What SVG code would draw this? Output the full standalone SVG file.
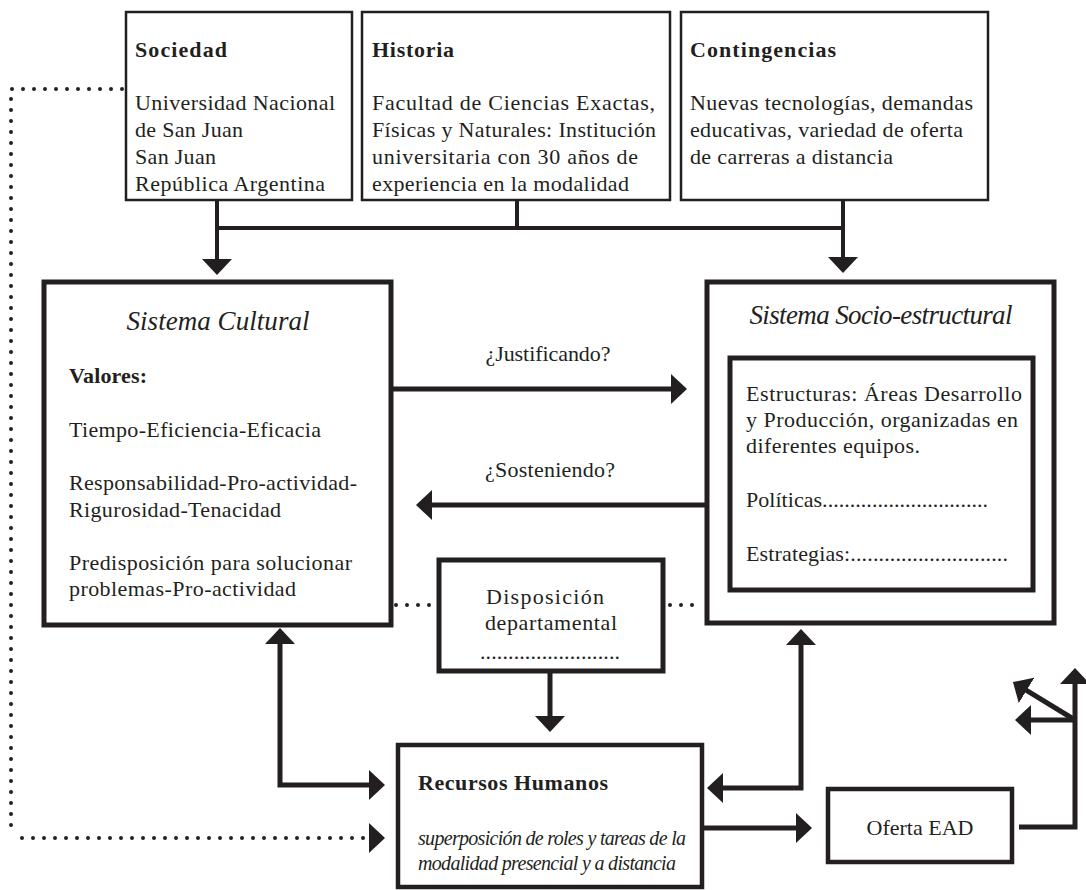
<svg xmlns="http://www.w3.org/2000/svg" width="1086" height="890" viewBox="0 0 1086 890">
<style>
.bg{fill:#ffffff}
.box{fill:#ffffff;stroke:#231f20}
.thin{stroke-width:2.5}
.thick{stroke-width:5}
.med{stroke-width:4.5}
.t{font-family:"Liberation Serif","Times New Roman",serif;font-size:22px;fill:#231f20}
.b{font-weight:bold}
.i{font-style:italic}
.ttl{font-size:27px;font-style:italic}
.it{font-size:20px;font-style:italic}
.c{text-anchor:middle}
.con{fill:none;stroke:#231f20;stroke-width:5;stroke-linejoin:miter}
.top{stroke-width:4}
.dot{fill:none;stroke:#231f20;stroke-width:4;stroke-linecap:round;stroke-dasharray:0 11}
</style>
<defs>
<marker id="ah" viewBox="0 0 16 30" markerWidth="16" markerHeight="30" refX="4" refY="15" orient="auto-start-reverse" markerUnits="userSpaceOnUse">
<path d="M0,0 L16,15 L0,30 Z" fill="#231f20"/>
</marker>
</defs>
<rect class="bg" x="0" y="0" width="1086" height="890"/>

<g id="connectors">
<path class="con top" d="M217,200 V263"  marker-end="url(#ah)"/>
<path class="con top" d="M843,200 V261" marker-end="url(#ah)"/>
<path class="con top" d="M217,228 H843"/>
<path class="con top" d="M517,200 V228"/>
<path class="con" d="M391,389 H675" marker-end="url(#ah)"/>
<path class="con" d="M707,505 H428" marker-end="url(#ah)"/>
<path class="con" d="M280,640 V785 H373" marker-start="url(#ah)" marker-end="url(#ah)"/>
<path class="con" d="M801,641 V788 H719" marker-start="url(#ah)" marker-end="url(#ah)"/>
<path class="con" d="M550,671 V720" marker-end="url(#ah)"/>
<path class="con" d="M702,828 H800" marker-end="url(#ah)"/>
<path class="con" d="M1019,827 H1075 V680" marker-end="url(#ah)"/>
<path class="con" d="M1075,720 H1027" marker-end="url(#ah)"/>
<path class="con" d="M1075,720 L1023.2,688.3" marker-end="url(#ah)"/>
<path class="dot" d="M122,89 H11 V829"/>
<path class="dot" d="M22,838 H373" marker-end="url(#ah)"/>
<path class="dot" d="M396,605 H436"/>
<path class="dot" d="M670,605 H703"/>
<text class="t c" x="548" y="361" textLength="125">¿Justificando?</text>
<text class="t c" x="550" y="477" textLength="130">¿Sosteniendo?</text>
</g>

<g id="sociedad">
<rect class="box thin" x="126" y="12" width="226" height="188"/>
<text class="t b" x="135" y="57" textLength="92">Sociedad</text>
<text class="t" x="135" y="110" textLength="200">Universidad Nacional</text>
<text class="t" x="135" y="137" textLength="108">de San Juan</text>
<text class="t" x="135" y="164" textLength="81">San Juan</text>
<text class="t" x="135" y="191" textLength="190">República Argentina</text>
</g>

<g id="historia">
<rect class="box thin" x="362" y="12" width="308" height="188"/>
<text class="t b" x="372" y="57" textLength="82">Historia</text>
<text class="t" x="372" y="110" textLength="283">Facultad de Ciencias Exactas,</text>
<text class="t" x="372" y="137" textLength="284">Físicas y Naturales: Institución</text>
<text class="t" x="372" y="164" textLength="266">universitaria con 30 años de</text>
<text class="t" x="372" y="191" textLength="257">experiencia en la modalidad</text>
</g>

<g id="contingencias">
<rect class="box thin" x="681" y="12" width="307" height="188"/>
<text class="t b" x="690" y="57" textLength="146">Contingencias</text>
<text class="t" x="690" y="110" textLength="283">Nuevas tecnologías, demandas</text>
<text class="t" x="690" y="137" textLength="273">educativas, variedad de oferta</text>
<text class="t" x="690" y="164" textLength="203">de carreras a distancia</text>
</g>

<g id="sistema-cultural">
<rect class="box thick" x="44" y="282" width="347" height="343"/>
<text class="t ttl c" x="218" y="330" textLength="183">Sistema Cultural</text>
<text class="t b" x="69" y="383" textLength="78">Valores:</text>
<text class="t" x="69" y="437" textLength="252">Tiempo-Eficiencia-Eficacia</text>
<text class="t" x="69" y="490" textLength="288">Responsabilidad-Pro-actividad-</text>
<text class="t" x="69" y="517" textLength="212">Rigurosidad-Tenacidad</text>
<text class="t" x="69" y="570" textLength="283">Predisposición para solucionar</text>
<text class="t" x="69" y="596" textLength="227">problemas-Pro-actividad</text>
</g>

<g id="sistema-socio-estructural">
<rect class="box thick" x="707" y="282" width="347" height="341"/>
<text class="t ttl c" x="881" y="324" textLength="263">Sistema Socio-estructural</text>
<rect class="box thick" x="730" y="358" width="303" height="232"/>
<text class="t" x="746" y="401" textLength="276">Estructuras: Áreas Desarrollo</text>
<text class="t" x="746" y="427" textLength="272">y Producción, organizadas en</text>
<text class="t" x="746" y="453" textLength="174">diferentes equipos.</text>
<text class="t" x="746" y="507" textLength="242">Políticas..............................</text>
<text class="t" x="746" y="561" textLength="262">Estrategias:............................</text>
</g>

<g id="disposicion-departamental">
<rect class="box thick" x="439" y="560" width="224" height="111"/>
<text class="t c" x="545" y="604" textLength="118">Disposición</text>
<text class="t c" x="551" y="630" textLength="132">departamental</text>
<text class="t c" x="550" y="659" textLength="140">.........................</text>
</g>

<g id="recursos-humanos">
<rect class="box med" x="398" y="745" width="304" height="142"/>
<text class="t b" x="418" y="790" textLength="190">Recursos Humanos</text>
<text class="t it" x="418" y="845" textLength="268">superposición de roles y tareas de la</text>
<text class="t it" x="418" y="870" textLength="258">modalidad presencial y a distancia</text>
</g>

<g id="oferta-ead">
<rect class="box med" x="828" y="789" width="184" height="73"/>
<text class="t c" x="920" y="835">Oferta EAD</text>
</g>
</svg>
